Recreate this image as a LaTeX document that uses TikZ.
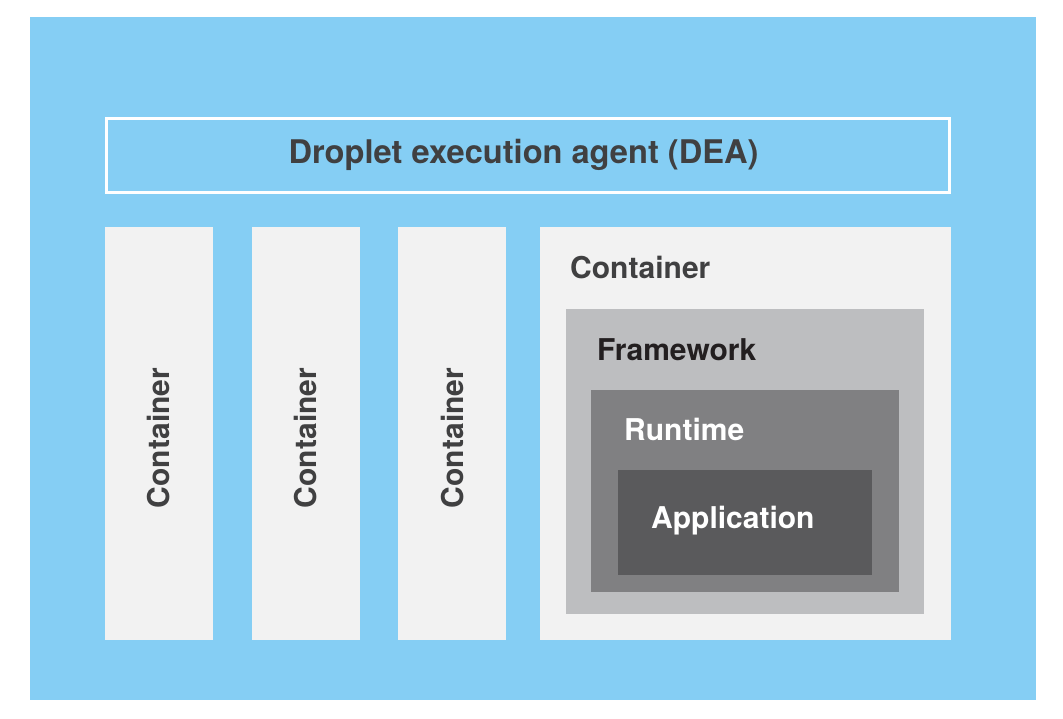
\documentclass[tikz,border=0pt]{standalone}
\usepackage{fontspec}
\setmainfont{TeX Gyre Heros}

\definecolor{agentblue}{RGB}{133,206,244}
\definecolor{containergray}{RGB}{242,242,242}
\definecolor{frameworkgray}{RGB}{189,190,192}
\definecolor{runtimegray}{RGB}{128,128,130}
\definecolor{appgray}{RGB}{90,90,92}
\definecolor{labelgray}{RGB}{64,64,65}
\definecolor{labeldark}{RGB}{35,31,32}

\begin{document}
\begin{tikzpicture}[x=1pt,y=-1pt]
		\tikzstyle {box label} = [font=\fontsize{30}{36}\selectfont\bfseries, inner sep=0pt]

		\useasboundingbox (0,0) rectangle (1063,718);

		\fill[agentblue] (30,17) rectangle (1036,700);

		\draw[white, line width=3pt] (106.5,118.5) rectangle (949.5,192.5);
		\node[box label, text=labelgray, font=\fontsize{32.6}{38}\selectfont\bfseries] (dea) at (523.5,155) {Droplet execution agent (DEA)};

		\foreach \x/\name in {105/contA, 252/contB, 398/contC} {
			\fill[containergray] (\x,227) rectangle ++(108,413);
			\node[box label, text=labelgray, rotate=90] (\name) at (\x+54,438) {Container};
		}

		\fill[containergray] (540,227) rectangle (951,640);
		\node[box label, text=labelgray, anchor=base west] (cont) at (570,278) {Container};

		\fill[frameworkgray] (566,309) rectangle (924,614);
		\node[box label, text=labeldark, anchor=base west] (framework) at (597,360) {Framework};

		\fill[runtimegray] (591,390) rectangle (899,592);
		\node[box label, text=white, anchor=base west] (runtime) at (624,440) {Runtime};

		\fill[appgray] (618,470) rectangle (872,575);
		\node[box label, text=white, anchor=base west] (app) at (651,528) {Application};

	\end{tikzpicture}
\end{document}
